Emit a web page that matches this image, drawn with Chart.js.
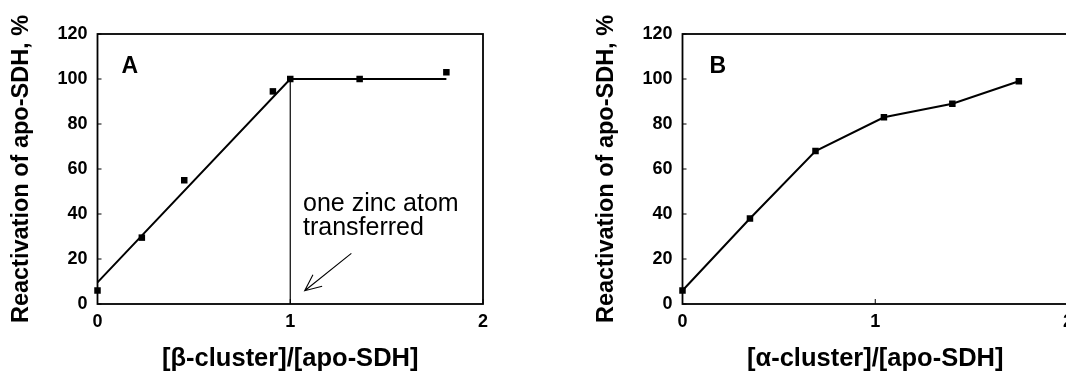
<!DOCTYPE html>
<html>
<head>
<meta charset="utf-8">
<script src="https://cdn.jsdelivr.net/npm/chart.js@4"></script>
<style>
  html, body { margin: 0; padding: 0; background: #fff; overflow: hidden; width: 1066px; height: 382px; }
  .panel { position: absolute; top: 0; width: 540px; height: 382px; }
  #wa { left: 0; }
  #wb { left: 585px; }
</style>
</head>
<body>
<div class="panel" id="wa"><canvas id="ca" width="540" height="382"></canvas></div>
<div class="panel" id="wb"><canvas id="cb" width="540" height="382"></canvas></div>
<script>
// ---- data ----
const xTickValues = [0, 1, 2];
const yTickValues = [0, 20, 40, 60, 80, 100, 120];

const aX = [0, 0.23, 0.45, 0.91, 1.0, 1.36, 1.81];
const aY = [6, 29.5, 55, 94.5, 100, 100, 103];
const aFitX = [0, 1, 1.81];
const aFitY = [9.6, 100, 100];
const aMarkX = [1, 1];
const aMarkY = [100, 0];

const bX = [0, 0.35, 0.69, 1.045, 1.40, 1.745];
const bY = [6, 38, 68, 83, 89, 99];

const yTitle = 'Reactivation of apo-SDH, %';
const aXTitle = '[β-cluster]/[apo-SDH]';
const bXTitle = '[α-cluster]/[apo-SDH]';
const aLetter = 'A';
const bLetter = 'B';
const aNote = ['one zinc atom', 'transferred'];
const aNoteAnchor = [1.066, 41.5];
const aArrowTail = [1.317, 22.5];
const aArrowHead = [1.075, 5.9];

// ---- helpers ----
const FONT = '"Liberation Sans", Arial, Helvetica, sans-serif';
const pts = (xs, ys) => xs.map((x, i) => ({x, y: ys[i]}));

const decorPlugin = {
  id: 'decor',
  beforeDatasetsDraw(chart) {
    const {ctx, chartArea: ca, scales: {x, y}} = chart;
    ctx.save();
    ctx.strokeStyle = '#000';
    ctx.lineWidth = 1.8;
    ctx.strokeRect(ca.left, ca.top, ca.right - ca.left, ca.bottom - ca.top);
    ctx.lineWidth = 1;
    ctx.beginPath();
    yTickValues.forEach(v => {
      const py = y.getPixelForValue(v);
      ctx.moveTo(ca.left, py); ctx.lineTo(ca.left + 4, py);
    });
    xTickValues.forEach(v => {
      const px = x.getPixelForValue(v);
      ctx.moveTo(px, ca.bottom); ctx.lineTo(px, ca.bottom - 5);
    });
    ctx.stroke();
    ctx.restore();
  },
  afterDatasetsDraw(chart, args, opts) {
    const {ctx, scales: {x, y}} = chart;
    ctx.save();
    ctx.strokeStyle = '#000';
    ctx.fillStyle = '#000';
    ctx.font = 'bold 23px ' + FONT;
    ctx.textAlign = 'left';
    ctx.textBaseline = 'alphabetic';
    ctx.fillText(opts.letter, x.getPixelForValue(opts.letterAt[0]), y.getPixelForValue(opts.letterAt[1]));
    if (opts.note) {
      ctx.font = '25px ' + FONT;
      const nx = x.getPixelForValue(opts.noteAt[0]);
      const ny = y.getPixelForValue(opts.noteAt[1]);
      opts.note.forEach((t, i) => ctx.fillText(t, nx, ny + i * 24.5));
      const tx = x.getPixelForValue(opts.tail[0]), ty = y.getPixelForValue(opts.tail[1]);
      const hx = x.getPixelForValue(opts.head[0]), hy = y.getPixelForValue(opts.head[1]);
      ctx.lineWidth = 1.1;
      ctx.beginPath();
      ctx.moveTo(tx, ty); ctx.lineTo(hx, hy);
      const ang = Math.atan2(ty - hy, tx - hx);
      const L = 18, spread = 0.42;
      ctx.moveTo(hx + L * Math.cos(ang + spread), hy + L * Math.sin(ang + spread));
      ctx.lineTo(hx, hy);
      ctx.lineTo(hx + L * Math.cos(ang - spread), hy + L * Math.sin(ang - spread));
      ctx.stroke();
    }
    ctx.restore();
  }
};

function makeChart(canvasId, datasets, xTitle, decor) {
  return new Chart(document.getElementById(canvasId), {
    type: 'scatter',
    data: { datasets },
    plugins: [decorPlugin],
    options: {
      responsive: false,
      animation: false,
      layout: { padding: { top: 34, right: 57, left: 0, bottom: 0 } },
      plugins: { legend: { display: false }, tooltip: { enabled: false }, decor },
      scales: {
        x: {
          type: 'linear', min: 0, max: 2,
          afterBuildTicks: s => { s.ticks = xTickValues.map(v => ({value: v})); },
          afterFit: s => { s.height = 78; },
          grid: { display: false, drawTicks: false },
          border: { display: false },
          ticks: { color: '#000', padding: 7, font: { family: FONT, size: 18, weight: 'bold' } },
          title: { display: true, text: xTitle, color: '#000', padding: 8, font: { family: FONT, size: 25.5, weight: 'bold' } }
        },
        y: {
          type: 'linear', min: 0, max: 120,
          afterBuildTicks: s => { s.ticks = yTickValues.map(v => ({value: v})); },
          afterFit: s => { s.width = 97.5; },
          grid: { display: false, drawTicks: false },
          border: { display: false },
          ticks: { color: '#000', padding: 10, font: { family: FONT, size: 18, weight: 'bold' } },
          title: { display: true, text: yTitle, color: '#000', padding: 7, font: { family: FONT, size: 23.5, weight: 'bold' } }
        }
      }
    }
  });
}

const black = '#000';

makeChart('ca', [
  { data: pts(aX, aY), pointStyle: 'rect', pointRadius: 4.6, backgroundColor: black, borderColor: black, borderWidth: 0, showLine: false, clip: false },
  { data: pts(aFitX, aFitY), showLine: true, borderColor: black, borderWidth: 2, pointRadius: 0, tension: 0, clip: false },
  { data: pts(aMarkX, aMarkY), showLine: true, borderColor: black, borderWidth: 1.2, pointRadius: 0, tension: 0 }
], aXTitle, { letter: aLetter, letterAt: [0.125, 102.7], note: aNote, noteAt: aNoteAnchor, tail: aArrowTail, head: aArrowHead });

makeChart('cb', [
  { data: pts(bX, bY), showLine: true, borderColor: black, borderWidth: 2, pointStyle: 'rect', pointRadius: 4.6, backgroundColor: black, pointBorderWidth: 0, tension: 0, clip: false }
], bXTitle, { letter: bLetter, letterAt: [0.14, 102.7] });
</script>
</body>
</html>
